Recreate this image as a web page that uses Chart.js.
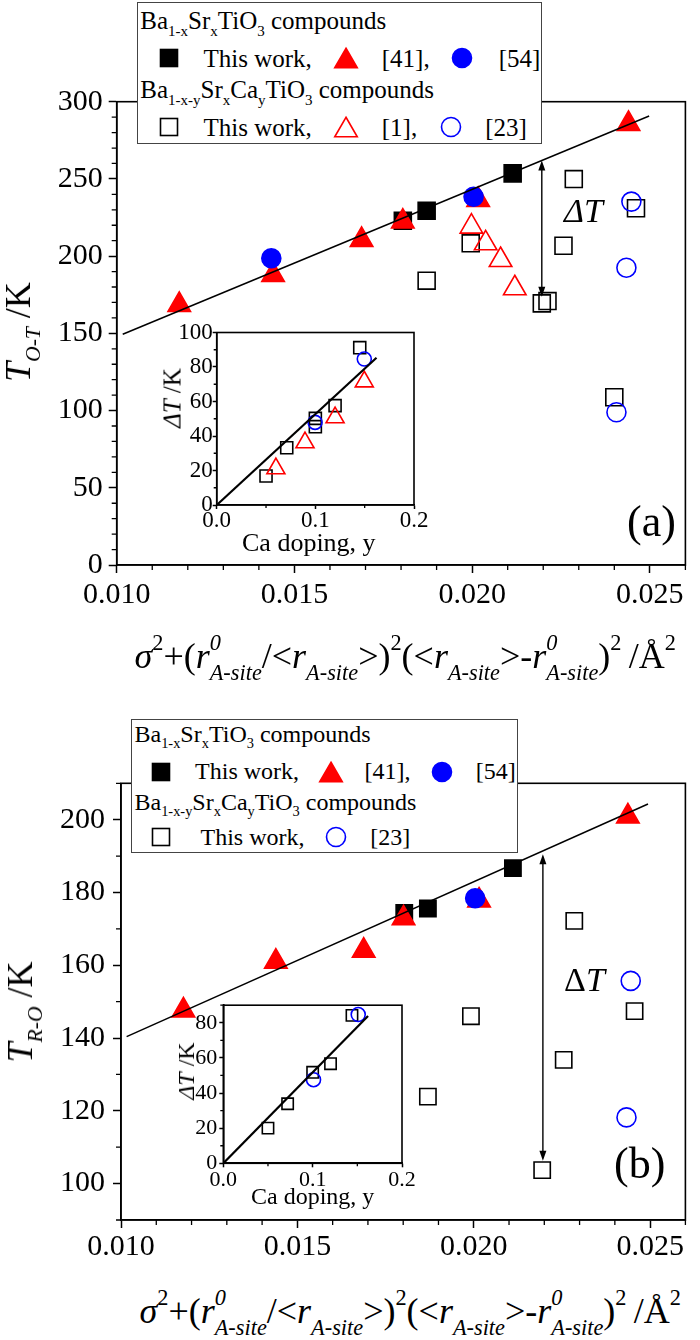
<!DOCTYPE html>
<html>
<head>
<meta charset="utf-8">
<title>Transition temperatures vs A-site disorder</title>
<script src="https://cdn.jsdelivr.net/npm/chart.js@4.4.0/dist/chart.umd.min.js"></script>
<style>
  body { margin:0; background:#fff; }
  #fig { position:relative; width:700px; height:1340px; overflow:hidden; background:#fff;
         font-family:'Liberation Serif','Times New Roman',serif; color:#000; }
  #fig canvas { position:absolute; }
  .txt { position:absolute; white-space:nowrap; line-height:1; }
  .rot { position:absolute; white-space:nowrap; line-height:1; transform:translate(-50%,-50%) rotate(-90deg); }
  .sb { font-size:.6em; position:relative; top:.45em; }
  .sp { font-size:.62em; position:relative; top:-.8em; }
  .ss { display:inline-block; position:relative; font-size:.62em; line-height:1; vertical-align:-.55em; }
  .ss .u { position:absolute; left:0; top:-1.36em; }
  .legend { position:absolute; background:#fff; border:1px solid #444; box-sizing:border-box; }
</style>
</head>
<body>
<div id="fig">
  <canvas id="chart-a" width="700" height="640" style="left:0;top:0"></canvas>
  <canvas id="chart-b" width="700" height="580" style="left:0;top:700px"></canvas>
  <canvas id="inset-a" width="290" height="225" style="left:140px;top:315px"></canvas>
  <canvas id="inset-b" width="270" height="205" style="left:150px;top:990px"></canvas>
</div>
<script>
/* ============ DADOS ============ */
var SERIF = 'Liberation Serif';

// painel (a): T(O-T)
var aXTicks = [0.010, 0.015, 0.020, 0.025];
var aXMinor = [0.011, 0.012, 0.013, 0.014, 0.016, 0.017, 0.018, 0.019, 0.021, 0.022, 0.023, 0.024, 0.026];
var aYTicks = [0, 50, 100, 150, 200, 250, 300];
var aYMinor = [10, 20, 30, 40, 60, 70, 80, 90, 110, 120, 130, 140, 160, 170, 180, 190, 210, 220, 230, 240, 260, 270, 280, 290];

var aBstWorkX = [0.01805, 0.01872, 0.02114];
var aBstWorkY = [222.9, 229.4, 253.6];
var aBst41X = [0.01176, 0.01440, 0.01689, 0.01805, 0.02017, 0.02440];
var aBst41Y = [168.4, 187.8, 210.5, 222.4, 236.4, 285.6];
var aBst54X = [0.01435, 0.02004];
var aBst54Y = [198.6, 238.5];
var aBsctWorkX = [0.01872, 0.01996, 0.02196, 0.02212, 0.02257, 0.02286, 0.02400, 0.02461];
var aBsctWorkY = [184.1, 208.3, 169.4, 170.9, 206.7, 249.9, 108.6, 231.0];
var aBsct1X = [0.01998, 0.02038, 0.02080, 0.02120];
var aBsct1Y = [219.1, 208.3, 197.5, 179.2];
var aBsct23X = [0.02406, 0.02434, 0.02448];
var aBsct23Y = [98.9, 192.5, 235.3];
var aFitX = [0.01017, 0.02498];
var aFitY = [149.4, 290.7];
var aDeltaX = 0.02196;
var aDeltaY = [262, 173.7];

// inset (a): delta T vs Ca
var insXTicks = [0, 0.1, 0.2];
var insXMinor = [0.05, 0.15];
var insAYTicks = [0, 20, 40, 60, 80, 100];
var insAYMinor = [10, 30, 50, 70, 90];
var insAWorkX = [0.050, 0.071, 0.100, 0.100, 0.120, 0.145];
var insAWorkY = [16.8, 33.2, 50.2, 45.4, 57.6, 91.2];
var insA1X = [0.060, 0.0895, 0.120, 0.1496];
var insA1Y = [21.1, 36.2, 50.7, 71.5];
var insA23X = [0.0997, 0.1496];
var insA23Y = [47.9, 84.6];
var insAFitX = [0, 0.162];
var insAFitY = [0, 85.4];

// painel (b): T(R-O)
var bXTicks = [0.010, 0.015, 0.020, 0.025];
var bXMinor = [0.011, 0.012, 0.013, 0.014, 0.016, 0.017, 0.018, 0.019, 0.021, 0.022, 0.023, 0.024, 0.026];
var bYTicks = [100, 120, 140, 160, 180, 200];
var bYMinor = [90, 110, 130, 150, 170, 190, 210];

var bBstWorkX = [0.01803, 0.01870, 0.02111];
var bBstWorkY = [174.4, 175.6, 186.7];
var bBst41X = [0.01177, 0.01439, 0.01688, 0.01801, 0.02015, 0.02437];
var bBst41Y = [147.6, 161.0, 164.0, 172.9, 177.8, 200.9];
var bBst54X = [0.02004];
var bBst54Y = [178.4];
var bBsctWorkX = [0.01870, 0.01992, 0.02194, 0.02255, 0.02285, 0.02456];
var bBsctWorkY = [123.9, 146.0, 103.7, 134.0, 172.2, 147.4];
var bBsct23X = [0.02433, 0.02445];
var bBsct23Y = [118.2, 155.7];
var bFitX = [0.01016, 0.02494];
var bFitY = [140.4, 204.3];
var bDeltaX = 0.02196;
var bDeltaY = [190.5, 106.3];

// inset (b)
var insBYTicks = [0, 20, 40, 60, 80];
var insBYMinor = [10, 30, 50, 70, 90];
var insBWorkX = [0.050, 0.072, 0.100, 0.120, 0.144];
var insBWorkY = [20.0, 33.9, 51.8, 56.7, 84.2];
var insB23X = [0.101, 0.151];
var insB23Y = [47.6, 84.7];
var insBFitX = [0, 0.162];
var insBFitY = [0, 83.8];

/* ============ HELPERS ============ */
function pts(xs, ys) {
  return xs.map(function(x, i) { return { x: x, y: ys[i] }; });
}

function marks(xs, ys, style, r, color, filled) {
  return {
    data: pts(xs, ys),
    pointStyle: style,
    pointRadius: r,
    pointHoverRadius: r,
    pointBackgroundColor: filled ? color : 'rgba(0,0,0,0)',
    pointBorderColor: color,
    pointBorderWidth: 1.6
  };
}

function fitLine(xs, ys, w) {
  return { data: pts(xs, ys), showLine: true, borderColor: '#000', borderWidth: w, pointRadius: 0, fill: false };
}

function axis(o) {
  return {
    type: 'linear', min: o.min, max: o.max,
    afterBuildTicks: function(s) { s.ticks = o.ticks.map(function(v) { return { value: v }; }); },
    afterFit: function(s) { if (s.isHorizontal()) s.height = o.size; else s.width = o.size; },
    grid: { drawOnChartArea: false, tickLength: o.tl, tickWidth: 1.5, tickColor: '#000' },
    border: { color: '#000', width: 1.6 },
    ticks: {
      autoSkip: false, maxRotation: 0, padding: o.pad, color: '#000',
      font: { family: SERIF, size: o.fs },
      callback: function(v) { return o.fmt ? o.fmt(v) : String(v); }
    }
  };
}

// moldura completa
var framePlugin = {
  id: 'frame',
  afterDraw: function(chart) {
    var a = chart.chartArea, ctx = chart.ctx;
    ctx.save();
    ctx.strokeStyle = '#000';
    ctx.lineWidth = 1.6;
    ctx.strokeRect(a.left, a.top, a.right - a.left, a.bottom - a.top);
    ctx.restore();
  }
};

// ticks menores (para fora)
var minorPlugin = {
  id: 'minorTicks',
  afterDraw: function(chart, args, opts) {
    var a = chart.chartArea, ctx = chart.ctx;
    var sx = chart.scales.x, sy = chart.scales.y;
    ctx.save();
    ctx.strokeStyle = '#000';
    ctx.lineWidth = 1.3;
    ctx.beginPath();
    (opts.x || []).forEach(function(v) {
      var p = sx.getPixelForValue(v);
      ctx.moveTo(p, a.bottom); ctx.lineTo(p, a.bottom + opts.len);
    });
    (opts.y || []).forEach(function(v) {
      var p = sy.getPixelForValue(v);
      ctx.moveTo(a.left, p); ctx.lineTo(a.left - opts.len, p);
    });
    ctx.stroke();
    ctx.restore();
  }
};

// seta dupla do delta T
var arrowPlugin = {
  id: 'deltaArrow',
  afterDatasetsDraw: function(chart, args, opts) {
    if (opts.x == null) return;
    var ctx = chart.ctx;
    var x = chart.scales.x.getPixelForValue(opts.x);
    var y1 = chart.scales.y.getPixelForValue(opts.from);
    var y2 = chart.scales.y.getPixelForValue(opts.to);
    ctx.save();
    ctx.strokeStyle = '#000';
    ctx.fillStyle = '#000';
    ctx.lineWidth = 1.4;
    ctx.beginPath(); ctx.moveTo(x, y1 + 6); ctx.lineTo(x, y2 - 6); ctx.stroke();
    ctx.beginPath(); ctx.moveTo(x, y1); ctx.lineTo(x - 3.5, y1 + 10); ctx.lineTo(x + 3.5, y1 + 10); ctx.closePath(); ctx.fill();
    ctx.beginPath(); ctx.moveTo(x, y2); ctx.lineTo(x - 3.5, y2 - 10); ctx.lineTo(x + 3.5, y2 - 10); ctx.closePath(); ctx.fill();
    ctx.restore();
  }
};

function baseOptions(pad, extra) {
  return {
    responsive: false, animation: false, devicePixelRatio: 1,
    font: { family: SERIF },
    layout: { padding: pad },
    plugins: {
      legend: { display: false }, tooltip: { enabled: false },
      minorTicks: extra.minor,
      deltaArrow: extra.arrow || {}
    },
    scales: extra.scales
  };
}

function fmt3(v) { return v.toFixed(3); }
function fmt1(v) { return v.toFixed(1); }

/* ============ GRAFICOS ============ */
Chart.defaults.font.family = SERIF;

new Chart(document.getElementById('chart-a'), {
  type: 'scatter',
  data: { datasets: [
    fitLine(aFitX, aFitY, 1.5),
    marks(aBst54X, aBst54Y, 'circle', 9.5, '#0000ff', true),
    marks(aBst41X, aBst41Y, 'triangle', 13, '#ff0000', true),
    marks(aBstWorkX, aBstWorkY, 'rect', 12, '#000000', true),
    marks(aBsct23X, aBsct23Y, 'circle', 9.5, '#0000ff', false),
    marks(aBsct1X, aBsct1Y, 'triangle', 13, '#ff0000', false),
    marks(aBsctWorkX, aBsctWorkY, 'rect', 12, '#000000', false)
  ]},
  options: baseOptions({ left: 0, top: 101.7, right: 3.3, bottom: 0 }, {
    minor: { x: aXMinor, y: aYMinor, len: 5 },
    arrow: { x: aDeltaX, from: aDeltaY[0], to: aDeltaY[1] },
    scales: {
      x: axis({ min: 0.010, max: 0.026, ticks: aXTicks, size: 75, tl: 8, pad: 4, fs: 30, fmt: fmt3 }),
      y: axis({ min: 0, max: 300, ticks: aYTicks, size: 116.7, tl: 8, pad: 6, fs: 30 })
    }
  }),
  plugins: [framePlugin, minorPlugin, arrowPlugin]
});

new Chart(document.getElementById('inset-a'), {
  type: 'scatter',
  data: { datasets: [
    fitLine(insAFitX, insAFitY, 2.2),
    marks(insA23X, insA23Y, 'circle', 7, '#0000ff', false),
    marks(insA1X, insA1Y, 'triangle', 10.4, '#ff0000', false),
    marks(insAWorkX, insAWorkY, 'rect', 8.5, '#000000', false)
  ]},
  options: baseOptions({ left: 0, top: 17.5, right: 16, bottom: 0 }, {
    minor: { x: insXMinor, y: insAYMinor, len: 3 },
    scales: {
      x: axis({ min: 0, max: 0.2, ticks: insXTicks, size: 35, tl: 4, pad: -2, fs: 23, fmt: fmt1 }),
      y: axis({ min: 0, max: 100, ticks: insAYTicks, size: 76.7, tl: 4, pad: 0, fs: 23 })
    }
  }),
  plugins: [framePlugin, minorPlugin]
});

new Chart(document.getElementById('chart-b'), {
  type: 'scatter',
  data: { datasets: [
    fitLine(bFitX, bFitY, 1.5),
    marks(bBst54X, bBst54Y, 'circle', 9.5, '#0000ff', true),
    marks(bBst41X, bBst41Y, 'triangle', 13, '#ff0000', true),
    marks(bBstWorkX, bBstWorkY, 'rect', 11.5, '#000000', true),
    marks(bBsct23X, bBsct23Y, 'circle', 9.5, '#0000ff', false),
    marks(bBsctWorkX, bBsctWorkY, 'rect', 11.5, '#000000', false)
  ]},
  options: baseOptions({ left: 0, top: 83.3, right: 5, bottom: 0 }, {
    minor: { x: bXMinor, y: bYMinor, len: 5 },
    arrow: { x: bDeltaX, from: bDeltaY[0], to: bDeltaY[1] },
    scales: {
      x: axis({ min: 0.010, max: 0.026, ticks: bXTicks, size: 60, tl: 8, pad: 1, fs: 30, fmt: fmt3 }),
      y: axis({ min: 90, max: 210, ticks: bYTicks, size: 121, tl: 8, pad: 8, fs: 30 })
    }
  }),
  plugins: [framePlugin, minorPlugin, arrowPlugin]
});

new Chart(document.getElementById('inset-b'), {
  type: 'scatter',
  data: { datasets: [
    fitLine(insBFitX, insBFitY, 2.2),
    marks(insB23X, insB23Y, 'circle', 7, '#0000ff', false),
    marks(insBWorkX, insBWorkY, 'rect', 8, '#000000', false)
  ]},
  options: baseOptions({ left: 0, top: 15, right: 18, bottom: 0 }, {
    minor: { x: insXMinor, y: insBYMinor, len: 3 },
    scales: {
      x: axis({ min: 0, max: 0.2, ticks: insXTicks, size: 31.7, tl: 4, pad: 0, fs: 22, fmt: fmt1 }),
      y: axis({ min: 0, max: 90, ticks: insBYTicks, size: 73.3, tl: 4, pad: 2, fs: 22 })
    }
  }),
  plugins: [framePlugin, minorPlugin]
});

/* ============ TEXTOS / LEGENDAS (HTML) ============ */
var fig = document.getElementById('fig');

function putText(html, x, base, size, align) {
  var d = document.createElement('div');
  d.className = 'txt';
  d.style.top = (base - 0.84 * size) + 'px';
  d.style.fontSize = size + 'px';
  d.innerHTML = html;
  fig.appendChild(d);
  if (align === 'center') d.style.left = (x - d.offsetWidth / 2) + 'px';
  else d.style.left = x + 'px';
  return d;
}

function putRot(html, cx, cy, size) {
  var d = document.createElement('div');
  d.className = 'rot';
  d.style.left = cx + 'px';
  d.style.top = cy + 'px';
  d.style.fontSize = size + 'px';
  d.innerHTML = html;
  fig.appendChild(d);
}

function legendBox(x, y, w, h) {
  var d = document.createElement('div');
  d.className = 'legend';
  d.style.left = x + 'px'; d.style.top = y + 'px';
  d.style.width = w + 'px'; d.style.height = h + 'px';
  fig.appendChild(d);
}

function legendMark(shape, filled, color, cx, cy) {
  var ns = 'http://www.w3.org/2000/svg';
  var svg = document.createElementNS(ns, 'svg');
  svg.setAttribute('width', 30); svg.setAttribute('height', 30);
  svg.style.position = 'absolute';
  svg.style.left = (cx - 15) + 'px';
  svg.style.top = (cy - 15) + 'px';
  var el;
  if (shape === 'rect') {
    el = document.createElementNS(ns, 'rect');
    el.setAttribute('x', 6.5); el.setAttribute('y', 6.5);
    el.setAttribute('width', 17); el.setAttribute('height', 17);
  } else if (shape === 'circle') {
    el = document.createElementNS(ns, 'circle');
    el.setAttribute('cx', 15); el.setAttribute('cy', 15); el.setAttribute('r', 9.5);
  } else {
    el = document.createElementNS(ns, 'polygon');
    el.setAttribute('points', '15,5.25 26.25,24.75 3.75,24.75');
  }
  el.setAttribute('fill', filled ? color : 'none');
  el.setAttribute('stroke', color);
  el.setAttribute('stroke-width', 1.6);
  svg.appendChild(el);
  fig.appendChild(svg);
}

var bstHtml = 'Ba<span class="sb">1-x</span>Sr<span class="sb">x</span>TiO<span class="sb">3</span> compounds';
var bsctHtml = 'Ba<span class="sb">1-x-y</span>Sr<span class="sb">x</span>Ca<span class="sb">y</span>TiO<span class="sb">3</span> compounds';

function rSite(sup) {
  return '<i>r</i><span class="ss">' + (sup ? '<i class="u">0</i>' : '') + '<i>A-site</i></span>';
}
var xTitleHtml = '<i>&sigma;</i><span class="sp">2</span>+(' + rSite(true) + '/&lt;' + rSite(false) +
  '&gt;)<span class="sp">2</span>(&lt;' + rSite(false) + '&gt;-' + rSite(true) +
  ')<span class="sp">2</span>&thinsp;/&Aring;<span class="sp">2</span>';

// --- legenda (a)
legendBox(137, 2, 405, 142);
putText(bstHtml, 140.3, 29, 25);
legendMark('rect', true, '#000', 169, 58.3);
putText('This work,', 203.5, 67, 25);
legendMark('tri', true, '#ff0000', 345.8, 58.3);
putText('[41],', 381.8, 67, 25);
legendMark('circle', true, '#0000ff', 462.4, 58.3);
putText('[54]', 498.8, 67, 25);
putText(bsctHtml, 140.3, 98, 25);
legendMark('rect', false, '#000', 169, 126.7);
putText('This work,', 203.5, 136, 25);
legendMark('tri', false, '#ff0000', 345.8, 126.7);
putText('[1],', 381.8, 136, 25);
legendMark('circle', false, '#0000ff', 450.5, 126.7);
putText('[23]', 485.3, 136, 25);

// --- rotulos (a)
putText('<i>&Delta;T</i>', 564, 223, 34);
putText('(a)', 627, 537, 44);
putRot('<i>T</i><span class="sb"><i>O-T</i></span> /K', 18, 332, 36);
putText(xTitleHtml, 405, 668, 36, 'center');
putText('Ca doping, y', 309, 552, 26, 'center');
putRot('<i>&Delta;T</i> /K', 172, 398, 25);

// --- legenda (b)
legendBox(131, 719, 387, 134);
putText(bstHtml, 134.5, 742, 24);
legendMark('rect', true, '#000', 161, 771.7);
putText('This work,', 195.1, 779, 24);
legendMark('tri', true, '#ff0000', 330.5, 771.7);
putText('[41],', 364.6, 779, 24);
legendMark('circle', true, '#0000ff', 441.8, 771.7);
putText('[54]', 475.8, 779, 24);
putText(bsctHtml, 134.5, 810, 24);
legendMark('rect', false, '#000', 161, 837.3);
putText('This work,', 200.5, 845, 24);
legendMark('circle', false, '#0000ff', 336.2, 837.3);
putText('[23]', 370.3, 845, 24);

// --- rotulos (b)
putText('&Delta;<i>T</i>', 564, 992, 34);
putText('(b)', 614, 1179, 44);
putRot('<i>T</i><span class="sb"><i>R-O</i></span> /K', 20, 1012, 36);
putText(xTitleHtml, 410, 1323, 36, 'center');
putText('Ca doping, y', 312.5, 1204, 24, 'center');
putRot('<i>&Delta;T</i> /K', 186, 1071, 24);
</script>
</body>
</html>
